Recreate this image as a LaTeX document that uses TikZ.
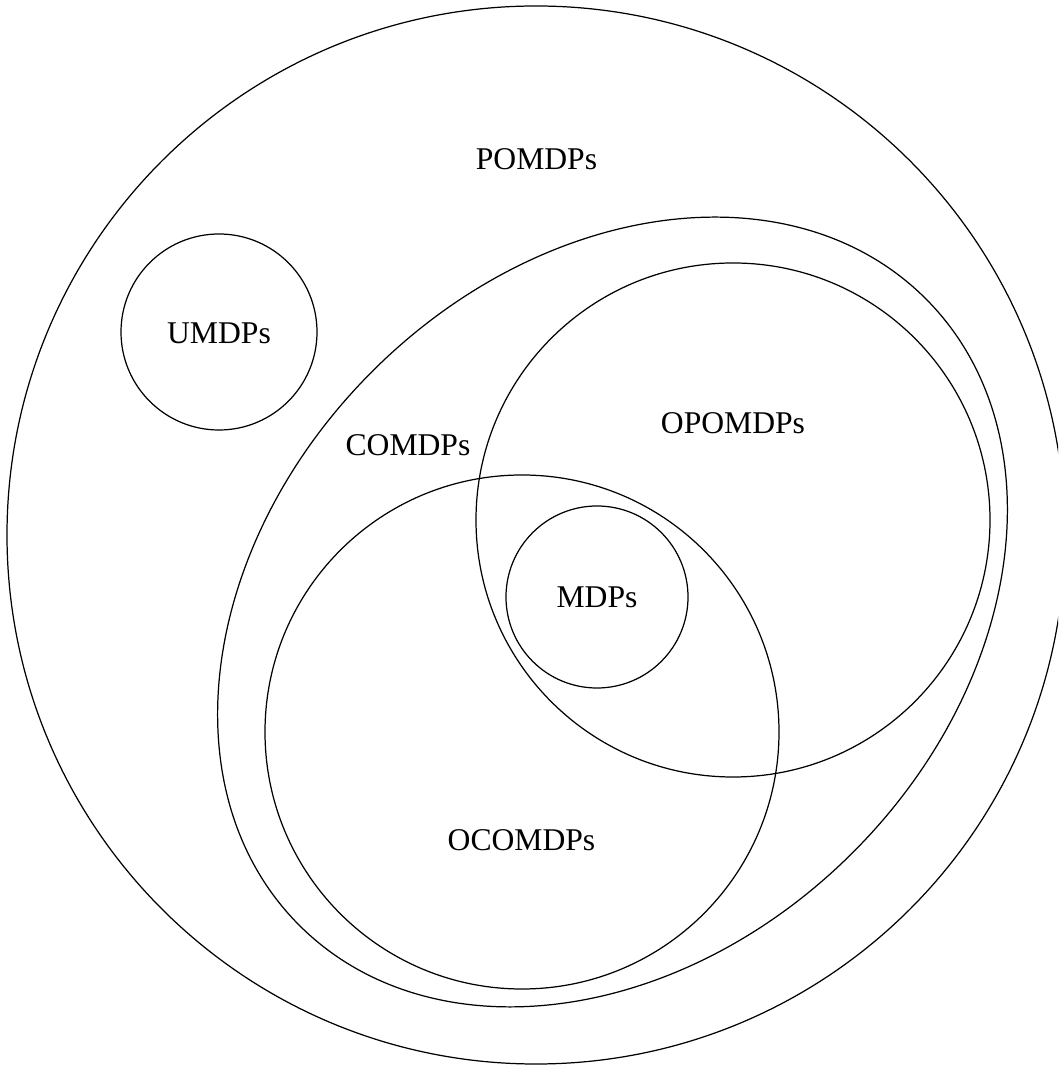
\documentclass[tikz,border=0pt]{standalone}
\usepackage{fontspec}
\setmainfont{Liberation Serif}
\begin{document}
\begin{tikzpicture}[setline/.style={line width=0.35pt},
        setname/.style={font=\fontsize{9}{11}\selectfont, inner sep=0pt}]
    \useasboundingbox (0,0) rectangle (10.58,10.65);
    \clip (0,0) rectangle (10.58,10.65);
    % sets
    \draw[setline] (5.36,5.30) circle (5.29);
    \draw[setline] (2.19,7.33) circle (0.98);
    \draw[setline, rotate around={45:(6.125,4.53)}] (6.125,4.53) ellipse (4.43 and 3.40);
    \draw[setline] (7.33,5.45) circle (2.57);
    \draw[setline] (5.22,3.33) circle (2.57);
    \draw[setline] (5.97,4.68) circle (0.91);
    % names
    \node[setname] (pomdp) at (5.365,9.06) {POMDPs};
    \node[setname] (umdp) at (2.19,7.32) {UMDPs};
    \node[setname] (comdp) at (4.08,6.20) {COMDPs};
    \node[setname] (opomdp) at (7.33,6.42) {OPOMDPs};
    \node[setname] (mdp) at (5.97,4.68) {MDPs};
    \node[setname] (ocomdp) at (5.215,2.25) {OCOMDPs};
\end{tikzpicture}
\end{document}
